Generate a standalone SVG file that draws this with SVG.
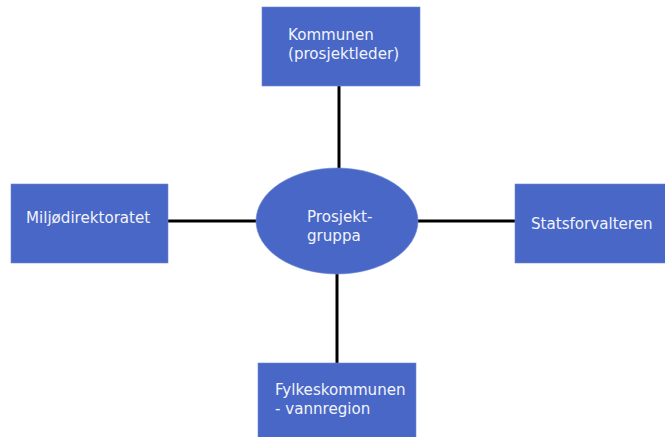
<svg xmlns="http://www.w3.org/2000/svg" width="665" height="437" viewBox="0 0 665 437">
<style>
.n{fill:#4967C7;stroke:#6F88D6;stroke-width:0.6}
.t{font-family:"DejaVu Sans",Verdana,sans-serif;font-size:15.1px;fill:#F2F4FA}
.c{stroke:#000;stroke-width:3;fill:none}
</style>
<rect width="665" height="437" fill="#fff"/>
<g id="connectors">
<line class="c" x1="339" y1="86" x2="339" y2="170"/>
<line class="c" x1="168" y1="221" x2="257" y2="221"/>
<line class="c" x1="417" y1="221" x2="515" y2="221"/>
<line class="c" x1="337" y1="273" x2="337" y2="363"/>
</g>
<g id="kommunen">
<rect class="n" x="262" y="7" width="158" height="79"/>
<text class="t" x="288" y="40">Kommunen</text>
<text class="t" x="288" y="59">(prosjektleder)</text>
</g>
<g id="prosjektgruppa">
<ellipse class="n" cx="337" cy="221" rx="81" ry="53"/>
<text class="t" x="307" y="222">Prosjekt-</text>
<text class="t" x="307" y="241">gruppa</text>
</g>
<g id="miljodirektoratet">
<rect class="n" x="11" y="184" width="157" height="79"/>
<text class="t" x="26" y="223">Miljødirektoratet</text>
</g>
<g id="statsforvalteren">
<rect class="n" x="515" y="184" width="152" height="79"/>
<text class="t" x="531" y="229">Statsforvalteren</text>
</g>
<g id="fylkeskommunen">
<rect class="n" x="258" y="363" width="158" height="76"/>
<text class="t" x="275" y="395">Fylkeskommunen</text>
<text class="t" x="275" y="414">- vannregion</text>
</g>
</svg>
